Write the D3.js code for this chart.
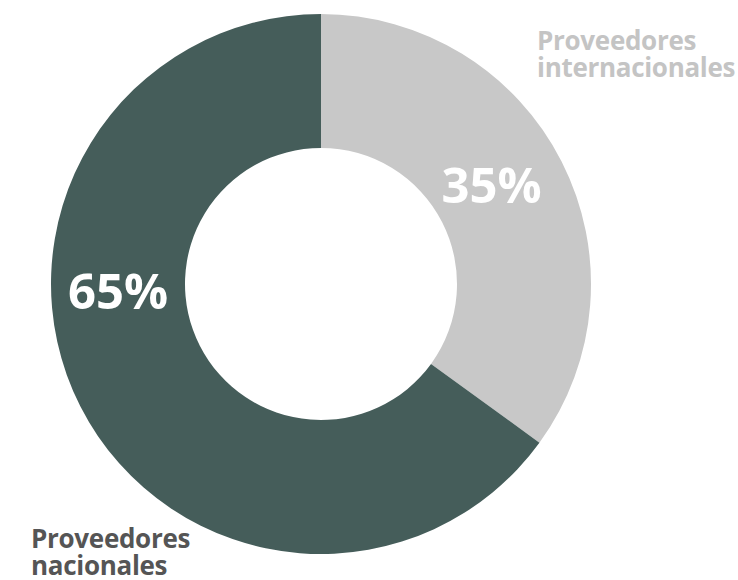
<!DOCTYPE html>
<html><head><meta charset="utf-8">
<script src="https://cdn.jsdelivr.net/npm/d3@7"></script>
<style>body{margin:0;background:#fff}svg{display:block}</style>
</head><body>
<script>
const categories = ["Proveedores internacionales", "Proveedores nacionales"];
const values = [35, 65];
const colors = ["#c8c8c8", "#455d5a"];
const labelColors = ["#c4c4c4", "#555555"];

const W = 738, H = 580, cx = 321, cy = 284, R = 270, r = 136;
const svg = d3.select("body").append("svg").attr("width", W).attr("height", H);
const g = svg.append("g").attr("transform", `translate(${cx},${cy})`);
const pie = d3.pie().sort(null).value(d => d)(values);
const arc = d3.arc().innerRadius(r).outerRadius(R);
g.selectAll("path").data(pie).join("path").attr("d", arc).attr("fill", (d, i) => colors[i]);

// label placement (angle in degrees clockwise from top, radius)
const pctPos = [[60, 197], [268, 203]];
g.selectAll("text.pct").data(pie).join("text").attr("class", "pct")
  .attr("transform", (d, i) => {
    const a = pctPos[i][0] * Math.PI / 180, rr = pctPos[i][1];
    return `translate(${rr * Math.sin(a)},${-rr * Math.cos(a)})`;
  })
  .attr("text-anchor", "middle").attr("dy", "0.36em")
  .style("font-family", "'Open Sans', sans-serif").style("font-weight", "700")
  .style("font-size", "49px").attr("fill", "#fff")
  .text(d => d.data + "%");

const lab = [
  {x: 537, y: 50},
  {x: 31, y: 548}
];
categories.forEach((c, i) => {
  const words = c.split(" ");
  const t = svg.append("text").attr("x", lab[i].x).attr("y", lab[i].y)
    .style("font-family", "'Open Sans', sans-serif").style("font-weight", "700")
    .style("font-size", "26px").style("letter-spacing", "-0.3px").attr("fill", labelColors[i]);
  words.forEach((w, j) => t.append("tspan").attr("x", lab[i].x).attr("dy", j ? 27 : 0).text(w));
});
</script>
</body></html>
